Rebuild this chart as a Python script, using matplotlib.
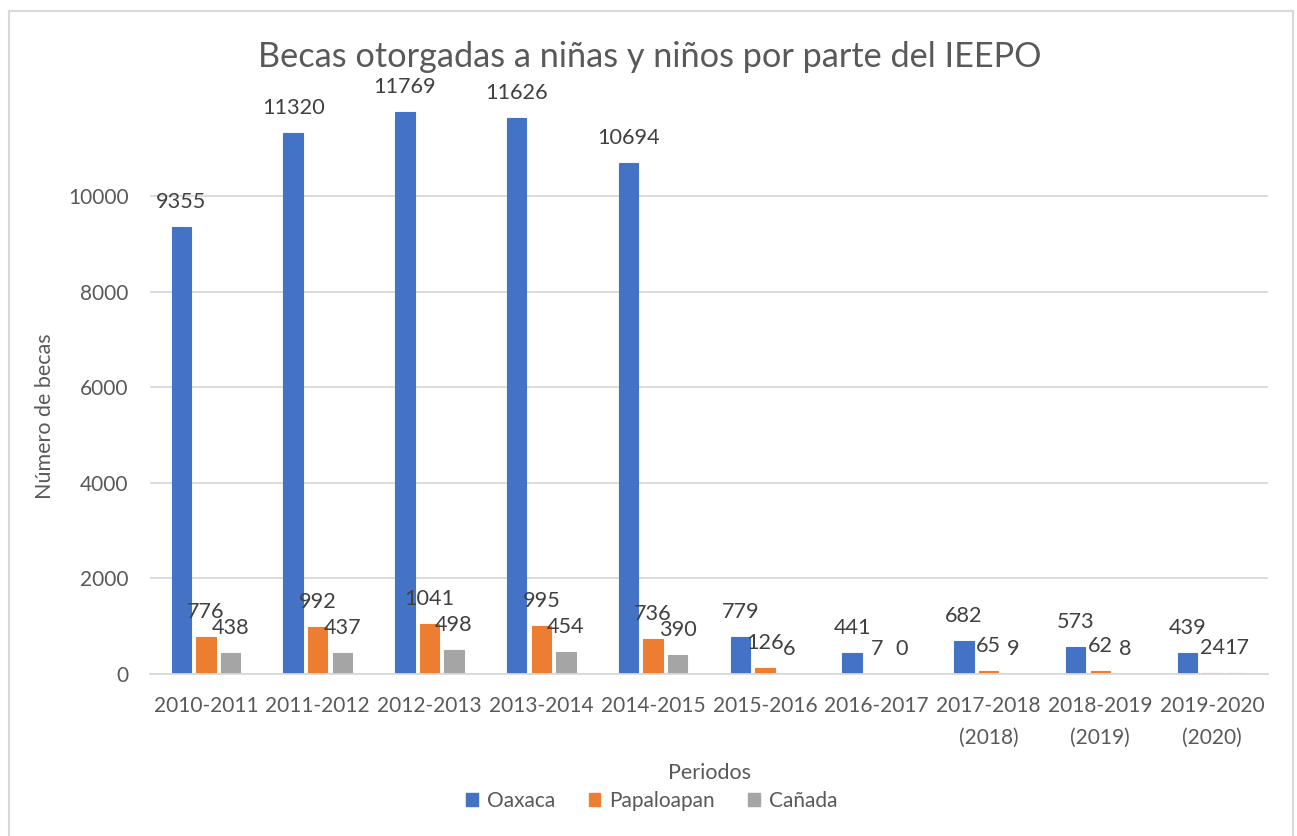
import matplotlib
matplotlib.use("Agg")
import matplotlib.pyplot as plt
import numpy as np
from matplotlib.lines import Line2D

plt.rcParams['font.family'] = ['Lato', 'DejaVu Sans']

categories = ["2010-2011", "2011-2012", "2012-2013", "2013-2014", "2014-2015",
              "2015-2016", "2016-2017", "2017-2018\n(2018)", "2018-2019\n(2019)", "2019-2020\n(2020)"]
oaxaca = [9355, 11320, 11769, 11626, 10694, 779, 441, 682, 573, 439]
papaloapan = [776, 992, 1041, 995, 736, 126, 7, 65, 62, 24]
canada = [438, 437, 498, 454, 390, 6, 0, 9, 8, 17]
series_names = ["Oaxaca", "Papaloapan", "Cañada"]
colors = ["#4472C4", "#ED7D31", "#A5A5A5"]

W, H = 1297, 836
fig = plt.figure(figsize=(W / 100, H / 100), dpi=100)
ax = fig.add_axes([150 / W, 1 - 674 / H, (1268 - 150) / W, (674 - 100.6) / H])

x = np.arange(len(categories))
bw = 0.172
offs = [-0.22, 0.0, 0.22]
text_col = "#595959"
lab_col = "#404040"

for vals, name, c, o in zip([oaxaca, papaloapan, canada], series_names, colors, offs):
    ax.bar(x + o, vals, width=bw, color=c, edgecolor=c, linewidth=0.8, label=name, zorder=3)
    for xi, v in zip(x + o, vals):
        ax.annotate(str(v), (xi, v), xytext=(0, 18), textcoords="offset points",
                    ha="center", va="center", fontsize=15.6, color=lab_col, zorder=4)

ax.set_xlim(-0.5, len(categories) - 0.5)
ax.set_ylim(0, 12000)
ax.set_yticks([0, 2000, 4000, 6000, 8000, 10000])
ax.yaxis.grid(True, color="#D9D9D9", linewidth=1.3, zorder=0)
ax.set_axisbelow(True)
for s in ["top", "right", "left"]:
    ax.spines[s].set_visible(False)
ax.spines["bottom"].set_color("#D9D9D9")
ax.spines["bottom"].set_linewidth(1.3)
ax.spines["bottom"].set_zorder(5)
ax.tick_params(axis="both", length=0, labelsize=15, labelcolor=text_col)
ax.tick_params(axis="y", pad=15.5)
ax.tick_params(axis="x", pad=16)
ax.set_xticks(x)
ax.set_xticklabels(categories, linespacing=1.75)

fig.text(650 / W, 1 - 57 / H, "Becas otorgadas a niñas y niños por parte del IEEPO",
         ha="center", va="center", fontsize=24.7, color=text_col)
fig.text(709 / W, 1 - 773 / H, "Periodos", ha="center", va="center", fontsize=15.5, color=text_col)
fig.text(45 / W, 1 - 416 / H, "Número de becas", ha="center", va="center", rotation=90,
         fontsize=15.5, color=text_col)

handles = [plt.Rectangle((0, 0), 1, 1, color=c) for c in colors]
fig.legend(handles, series_names, loc="center", bbox_to_anchor=(652 / W, 1 - 801 / H),
           ncol=3, frameon=False, fontsize=15, labelcolor=text_col,
           handlelength=0.55, handleheight=0.55, handletextpad=0.45, columnspacing=1.6)

bc = "#D9D9D9"
fig.add_artist(Line2D([8.5 / W, 8.5 / W], [0, 1 - 11 / H], transform=fig.transFigure, color=bc, lw=1.5))
fig.add_artist(Line2D([8.5 / W, 1292.5 / W], [1 - 11 / H, 1 - 11 / H], transform=fig.transFigure, color=bc, lw=1.5))
fig.add_artist(Line2D([1292.5 / W, 1292.5 / W], [0, 1 - 11 / H], transform=fig.transFigure, color=bc, lw=1.5))

fig.savefig("out.png", dpi=100, facecolor="white")
